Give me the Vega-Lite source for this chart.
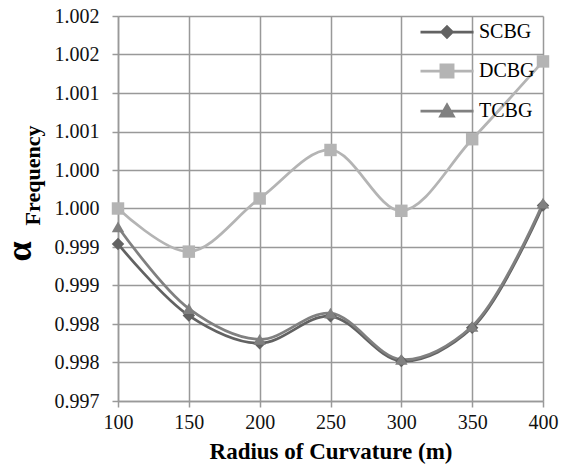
{
  "$schema": "https://vega.github.io/schema/vega-lite/v6.json",
  "width": 425,
  "height": 385,
  "autosize": {"type": "none"},
  "padding": {"left": 118, "top": 16, "right": 23, "bottom": 71},
  "background": "white",
  "config": {"view": {"stroke": null}, "font": "Liberation Serif"},
  "data": {
    "values": [
      {"series": "SCBG", "radius": 100, "alpha": 0.99904},
      {"series": "SCBG", "radius": 150, "alpha": 0.99811},
      {"series": "SCBG", "radius": 200, "alpha": 0.99775},
      {"series": "SCBG", "radius": 250, "alpha": 0.9981},
      {"series": "SCBG", "radius": 300, "alpha": 0.99752},
      {"series": "SCBG", "radius": 350, "alpha": 0.99795},
      {"series": "SCBG", "radius": 400, "alpha": 0.99954},
      {"series": "DCBG", "radius": 100, "alpha": 0.9995},
      {"series": "DCBG", "radius": 150, "alpha": 0.99894},
      {"series": "DCBG", "radius": 200, "alpha": 0.99963},
      {"series": "DCBG", "radius": 250, "alpha": 1.00026},
      {"series": "DCBG", "radius": 300, "alpha": 0.99947},
      {"series": "DCBG", "radius": 350, "alpha": 1.0004},
      {"series": "DCBG", "radius": 400, "alpha": 1.00141},
      {"series": "TCBG", "radius": 100, "alpha": 0.99926},
      {"series": "TCBG", "radius": 150, "alpha": 0.9982},
      {"series": "TCBG", "radius": 200, "alpha": 0.9978},
      {"series": "TCBG", "radius": 250, "alpha": 0.99814},
      {"series": "TCBG", "radius": 300, "alpha": 0.99754},
      {"series": "TCBG", "radius": 350, "alpha": 0.99797},
      {"series": "TCBG", "radius": 400, "alpha": 0.99957}
    ]
  },
  "encoding": {
    "x": {
      "field": "radius", "type": "quantitative",
      "scale": {"domain": [100, 400], "nice": false, "zero": false},
      "axis": {
        "values": [100, 150, 200, 250, 300, 350, 400],
        "title": "Radius of Curvature (m)",
        "titleFont": "Liberation Serif", "titleFontSize": 23, "titleFontWeight": "bold", "titleColor": "#000",
        "titlePadding": 8,
        "labelFont": "Liberation Serif", "labelFontSize": 20, "labelColor": "#111", "labelPadding": 5, "labelFlush": false,
        "tickSize": 6, "tickColor": "#999", "tickWidth": 1.5,
        "domainColor": "#999", "domainWidth": 1.5,
        "grid": true, "gridColor": "#999", "gridWidth": 1.5
      }
    }
  },
  "layer": [
    {
      "mark": {"type": "line", "interpolate": "catmull-rom", "strokeWidth": 2.75},
      "encoding": {
        "y": {
          "field": "alpha", "type": "quantitative",
          "scale": {"domain": [0.997, 1.002], "nice": false, "zero": false},
          "axis": {
            "values": [0.997, 0.9975, 0.998, 0.9985, 0.999, 0.9995, 1.0, 1.0005, 1.001, 1.0015, 1.002],
            "labelExpr": "format(datum.value + 1e-7, '.3f')",
            "title": "Frequency",
            "titleFont": "Liberation Serif", "titleFontSize": 22, "titleFontWeight": "bold", "titleColor": "#000",
            "titleAngle": -90, "titleX": -79, "titleY": 159, "titleAlign": "center", "titleBaseline": "alphabetic",
            "labelFont": "Liberation Serif", "labelFontSize": 20, "labelColor": "#111", "labelPadding": 13, "labelFlush": false,
            "tickSize": 6, "tickColor": "#999", "tickWidth": 1.5,
            "domainColor": "#999", "domainWidth": 1.5,
            "grid": true, "gridColor": "#999", "gridWidth": 1.5
          }
        },
        "color": {
          "field": "series", "type": "nominal",
          "scale": {"domain": ["SCBG", "DCBG", "TCBG"], "range": ["#626262", "#b4b4b4", "#808080"]},
          "legend": null
        }
      }
    },
    {
      "mark": {"type": "point", "filled": true, "opacity": 1, "size": 155},
      "encoding": {
        "y": {
          "field": "alpha", "type": "quantitative",
          "axis": {
            "orient": "left",
            "title": "α",
            "labels": false, "ticks": false, "domain": false, "grid": false,
            "titleFont": "Liberation Serif", "titleFontSize": 36, "titleFontWeight": "bold", "titleColor": "#000",
            "titleAngle": -90, "titleX": -88, "titleY": 235, "titleAlign": "center", "titleBaseline": "alphabetic"
          }
        },
        "color": {
          "field": "series", "type": "nominal",
          "scale": {"domain": ["SCBG", "DCBG", "TCBG"], "range": ["#626262", "#b4b4b4", "#808080"]},
          "legend": null
        },
        "shape": {
          "field": "series", "type": "nominal",
          "scale": {"domain": ["SCBG", "DCBG", "TCBG"], "range": ["diamond", "square", "triangle-up"]},
          "legend": null
        }
      }
    },
    {
      "transform": [{"filter": "false"}],
      "mark": {"type": "point", "filled": true, "opacity": 1},
      "encoding": {
        "y": {"field": "alpha", "type": "quantitative", "axis": null},
        "shape": {
          "field": "series", "type": "nominal",
          "scale": {
            "domain": ["SCBG", "DCBG", "TCBG"],
            "range": [
              "M-1,0H1M0,-0.2L0.2,0L0,0.2L-0.2,0Z",
              "M-1,0H1M-0.23,-0.23H0.23V0.23H-0.23Z",
              "M-1,0H1M0,-0.23L0.24,0.19L-0.24,0.19Z"
            ]
          },
          "legend": {
            "orient": "none", "legendX": 301, "legendY": -12, "title": null, "direction": "vertical", "padding": 0,
            "labelFont": "Liberation Serif", "labelFontSize": 20, "labelColor": "#000",
            "symbolSize": 2809, "symbolStrokeWidth": 2.75, "labelOffset": 4, "rowPadding": -2, "symbolOpacity": 1,
            "encoding": {
              "symbols": {
                "fill": {"value": {"expr": "datum.value === 'SCBG' ? '#626262' : datum.value === 'DCBG' ? '#b4b4b4' : '#808080'"}},
                "stroke": {"value": {"expr": "datum.value === 'SCBG' ? '#626262' : datum.value === 'DCBG' ? '#b4b4b4' : '#808080'"}},
                "size": {"value": 2809},
                "strokeWidth": {"value": 2.75},
                "opacity": {"value": 1},
                "fillOpacity": {"value": 1},
                "strokeOpacity": {"value": 1}
              }
            }
          }
        }
      }
    }
  ],
  "resolve": {"scale": {"shape": "independent"}, "axis": {"y": "independent"}}
}
